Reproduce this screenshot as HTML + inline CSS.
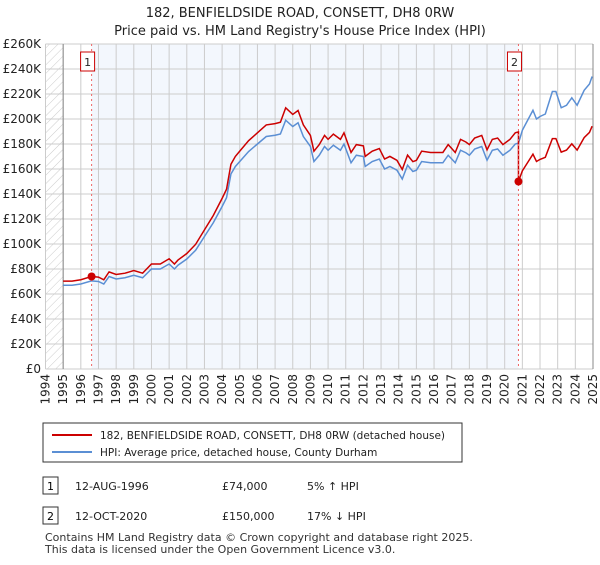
<!DOCTYPE html>
<html><head><meta charset="utf-8"><style>
body{margin:0;background:#fff;font-family:"Liberation Sans","DejaVu Sans",sans-serif;}
svg text{font-family:"DejaVu Sans","Liberation Sans",sans-serif;}
</style></head><body>
<svg id="c" width="600" height="560" viewBox="0 0 600 560">
<defs><pattern id="hatch" width="6" height="6" patternUnits="userSpaceOnUse" patternTransform="rotate(45)"><line x1="0" y1="0" x2="0" y2="6" stroke="#ccc" stroke-width="1"/></pattern></defs>
<text x="300" y="17" text-anchor="middle" font-size="13" fill="#222">182, BENFIELDSIDE ROAD, CONSETT, DH8 0RW</text>
<text x="300" y="35" text-anchor="middle" font-size="13" fill="#222">Price paid vs. HM Land Registry's House Price Index (HPI)</text>
<g id="plot"></g>
<g>
<rect x="43" y="423" width="419" height="39" fill="#fff" stroke="#333" stroke-width="1"/>
<line x1="52" y1="435" x2="92" y2="435" stroke="#cc0000" stroke-width="2"/>
<text x="100" y="439" font-size="10.5" fill="#222">182, BENFIELDSIDE ROAD, CONSETT, DH8 0RW (detached house)</text>
<line x1="52" y1="452" x2="92" y2="452" stroke="#5b8fd4" stroke-width="2"/>
<text x="100" y="456" font-size="10.5" fill="#222">HPI: Average price, detached house, County Durham</text>
</g>
<g>
<rect x="43" y="477" width="15" height="17" fill="#fff" stroke="#333"/><text x="50.5" y="490" text-anchor="middle" font-size="11">1</text>
<text x="75" y="490" font-size="11" fill="#222">12-AUG-1996</text><text x="222" y="490" font-size="11" fill="#222">£74,000</text><text x="307" y="490" font-size="11" fill="#222">5% ↑ HPI</text>
<rect x="43" y="507" width="15" height="17" fill="#fff" stroke="#333"/><text x="50.5" y="520" text-anchor="middle" font-size="11">2</text>
<text x="75" y="520" font-size="11" fill="#222">12-OCT-2020</text><text x="222" y="520" font-size="11" fill="#222">£150,000</text><text x="307" y="520" font-size="11" fill="#222">17% ↓ HPI</text>
</g>
<text x="45" y="541" font-size="11" fill="#333">Contains HM Land Registry data © Crown copyright and database right 2025.</text>
<text x="45" y="553" font-size="11" fill="#333">This data is licensed under the Open Government Licence v3.0.</text>
</svg>
<script>
const hpiYears=[1995,1995.5,1996,1996.6,1997,1997.3,1997.6,1998,1998.5,1999,1999.5,2000,2000.5,2001,2001.3,2001.5,2002,2002.5,2003,2003.5,2004,2004.25,2004.5,2004.75,2005,2005.5,2006,2006.5,2007,2007.3,2007.6,2008,2008.3,2008.6,2009,2009.2,2009.5,2009.8,2010,2010.3,2010.7,2010.9,2011.3,2011.6,2012,2012.1,2012.5,2012.9,2013.2,2013.5,2013.9,2014.2,2014.5,2014.8,2015,2015.3,2015.8,2016.5,2016.8,2017,2017.2,2017.5,2017.8,2018,2018.3,2018.7,2019,2019.3,2019.6,2019.9,2020.3,2020.6,2020.78,2021,2021.3,2021.6,2021.8,2022,2022.3,2022.7,2022.9,2023.2,2023.5,2023.8,2024.1,2024.5,2024.8,2024.95];
const hpiValues=[67,67,68,70.5,70,68,74,72,73,75,73,80,80,84,80,83,88,95,106,117,130,137,156,162,166,174,180,186,187,188,199,194,197,186,178,166,171,178,175,179,175,180,165,171,170,162,166,168,160,162,159,152,163,158,159,166,165,165,171,168,165,175,173,171,176,178,167,175,176,171,175,180,180.7,191,199,207,200,202,204,222,222,209,211,217,211,223,228,234];
const saleYears=[1996.61,2020.78];
const salePrices=[74,150];
const saleLabels=["1","2"];
const yTicks=[0,20,40,60,80,100,120,140,160,180,200,220,240,260];
const xTicks=[1994,1995,1996,1997,1998,1999,2000,2001,2002,2003,2004,2005,2006,2007,2008,2009,2010,2011,2012,2013,2014,2015,2016,2017,2018,2019,2020,2021,2022,2023,2024,2025];

const NS="http://www.w3.org/2000/svg";
const L=45.5,R=593,T=44,B=369;
const X=y=>L+(y-1994)*(R-L)/31;
const Y=v=>B-v*(B-T)/260;
const g=document.getElementById('plot');
function mk(t,a){const e=document.createElementNS(NS,t);for(const k in a)e.setAttribute(k,a[k]);g.appendChild(e);return e;}
function hpiAt(y){for(let i=1;i<hpiYears.length;i++){if(y<=hpiYears[i]){const f=(y-hpiYears[i-1])/(hpiYears[i]-hpiYears[i-1]);return hpiValues[i-1]+f*(hpiValues[i]-hpiValues[i-1]);}}return hpiValues[hpiValues.length-1];}
let e;
e=mk('rect',{x:L,y:T,width:R-L,height:B-T,fill:'#fff'});

e=mk('rect',{x:L,y:T,width:X(1995)-L,height:B-T,fill:'url(#hatch)'});

e=mk('rect',{x:X(saleYears[0]),y:T,width:X(saleYears[1])-X(saleYears[0]),height:B-T,fill:'#f3f7fd'});

yTicks.forEach(v=>{
 e=mk('line',{x1:L,x2:R,y1:Y(v),y2:Y(v),stroke:'#ccc','stroke-width':1});
 
 e=mk('text',{x:41,y:Y(v)+4,'text-anchor':'end','font-size':12,fill:'#222'});e.textContent='£'+(v?v+'K':'0');
 
});
xTicks.forEach(yr=>{
 e=mk('line',{x1:X(yr),x2:X(yr),y1:T,y2:B,stroke:'#ccc','stroke-width':1});
 
 e=mk('text',{x:0,y:0,'text-anchor':'end','font-size':12,fill:'#222',transform:`translate(${X(yr)+4},${B+5}) rotate(-90)`});e.textContent=yr;
 
});
e=mk('line',{x1:X(1995),x2:X(1995),y1:T,y2:B,stroke:'#888'});

e=mk('line',{x1:R,x2:R,y1:T,y2:B,stroke:'#888'});

e=mk('polyline',{points:hpiYears.map((y,i)=>X(y)+','+Y(hpiValues[i])).join(' '),fill:'none',stroke:'#5b8fd4','stroke-width':1.5});

const r1=salePrices[0]/hpiAt(saleYears[0]),r2=salePrices[1]/hpiAt(saleYears[1]);
let pts=[];
hpiYears.forEach((y,i)=>{if(y<saleYears[1])pts.push(X(y)+','+Y(hpiValues[i]*r1));});
pts.push(X(saleYears[1])+','+Y(hpiAt(saleYears[1])*r1));
pts.push(X(saleYears[1])+','+Y(salePrices[1]));
hpiYears.forEach((y,i)=>{if(y>saleYears[1])pts.push(X(y)+','+Y(hpiValues[i]*r2));});
e=mk('polyline',{points:pts.join(' '),fill:'none',stroke:'#cc0000','stroke-width':1.5});

saleYears.forEach((y,i)=>{
 e=mk('line',{x1:X(y),x2:X(y),y1:T,y2:B,stroke:'#e66','stroke-width':1,'stroke-dasharray':'2,3'});
 
 e=mk('circle',{cx:X(y),cy:Y(salePrices[i]),r:4,fill:'#cc0000'});
 
 e=mk('rect',{x:X(y)-11,y:52,width:14,height:19,fill:'#fff',stroke:'#cc0000'});
 
 e=mk('text',{x:X(y)-4,y:66,'text-anchor':'middle','font-size':11,fill:'#222'});e.textContent=saleLabels[i];
 
});
</script>
</body></html>
